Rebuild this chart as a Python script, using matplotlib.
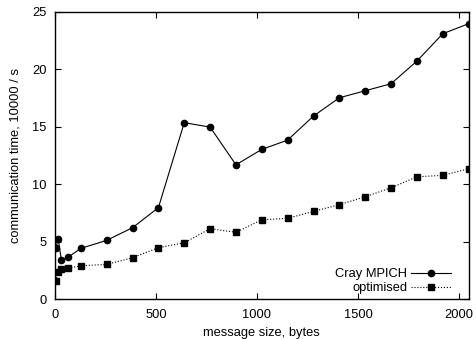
"""Communication time vs message size: Cray MPICH against the optimised path."""

import matplotlib

matplotlib.use("Agg")
import matplotlib.pyplot as plt  # noqa: E402

plt.rcParams.update(
    {
        "font.family": ["Liberation Sans", "DejaVu Sans"],
        "font.size": 9.3,
        "xtick.direction": "in", "ytick.direction": "in",
        "xtick.top": True, "ytick.right": True,
        "xtick.major.size": 4, "ytick.major.size": 4,
        "axes.linewidth": 1.0,
    }
)

msg_size = [4, 16, 32, 64, 128, 256, 384, 512, 640, 768, 896, 1024,
            1152, 1280, 1408, 1536, 1664, 1792, 1920, 2048]
cray_mpich = [4.43, 5.24, 3.39, 3.65, 4.43, 5.13, 6.23, 7.97, 15.36, 14.98,
              11.7, 13.04, 13.85, 15.94, 17.53, 18.14, 18.75, 20.72, 23.1, 23.97]
optimised = [1.62, 2.4, 2.66, 2.7, 2.92, 3.04, 3.62, 4.49, 4.92, 6.14,
             5.83, 6.92, 7.04, 7.65, 8.23, 8.92, 9.70, 10.66, 10.78, 11.36]


def main():
    fig = plt.figure(figsize=(4.76, 3.39), dpi=100)
    ax = fig.add_axes([0.1155, 0.117, 0.869, 0.848])

    ax.plot(msg_size, cray_mpich, "-", color="black", lw=0.8,
            marker="o", ms=4.5, label="Cray MPICH")
    ax.plot(msg_size, optimised, ":", color="black", lw=0.8,
            marker="s", ms=5, label="optimised")

    ax.set_xlim(0, 2048)
    ax.set_ylim(0, 25)
    ax.set_xticks([0, 500, 1000, 1500, 2000])
    ax.set_yticks([0, 5, 10, 15, 20, 25])
    ax.tick_params(axis="x", pad=7)
    ax.tick_params(axis="y", pad=6)
    ax.set_xlabel("message size, bytes", labelpad=4)
    ax.set_ylabel("communication time, 10000 / s", labelpad=8)

    ax.legend(loc="lower right", bbox_to_anchor=(0.97, 0.0), frameon=False,
              markerfirst=False, handlelength=3.1, labelspacing=0.15,
              handletextpad=0.3, borderaxespad=0.0)

    fig.savefig("out.png", dpi=100)


if __name__ == "__main__":
    main()
